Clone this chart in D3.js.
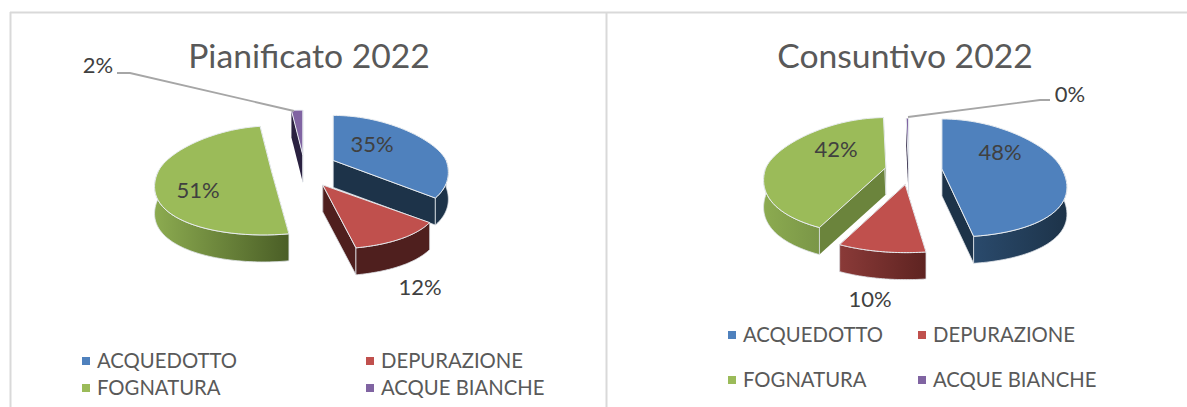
<!DOCTYPE html>
<html>
<head>
<meta charset="utf-8">
<script src="https://cdn.jsdelivr.net/npm/d3@7"></script>
<style>
html, body { margin: 0; padding: 0; background: #fff; }
svg { display: block; }
text { font-family: Lato, "Open Sans", sans-serif; }
</style>
</head>
<body>
<svg id="chart" width="1187" height="407"></svg>
<script>
const width = 1187;
const height = 407;

const categories = ["ACQUEDOTTO", "DEPURAZIONE", "FOGNATURA", "ACQUE BIANCHE"];
const colors = ["#4f81bd", "#c0504d", "#9bbb59", "#8064a2"];
const pianificato = [35, 12, 51, 2];
const consuntivo = [47.8, 10, 41.8, 0.4];

// wall colours per slice, light end then dark end of the gradient
const wallsLeft = [["#1d3349", "#1d3349"], ["#4f1f1e", "#4f1f1e"], ["#8cab50", "#4a5e26"], ["#2a2140", "#2a2140"]];
const wallsRight = [["#2a4a6c", "#1d3349"], ["#8a3a38", "#5e2321"], ["#8cab50", "#7a9647"], ["#2a2140", "#2a2140"]];
const facesLeft = ["#1d3349", "#4f1f1e", "#4a5e26", "#2a2140"];
const facesRight = ["#1d3349", "#6e2a28", "#6b843c", "#2a2140"];

var svg = d3.select("#chart");
var defs = svg.append("defs");

// panel borders
var border = svg.append("g").attr("stroke", "#d9d9d9").attr("stroke-width", 2);
border.append("line").attr("x1", 10).attr("x2", 1187).attr("y1", 12.5).attr("y2", 12.5);
border.append("line").attr("x1", 10.5).attr("x2", 10.5).attr("y1", 12).attr("y2", height);
border.append("line").attr("x1", 606.5).attr("x2", 606.5).attr("y1", 12).attr("y2", height);

// nudge is dx, dy and a sideways lean of the front rim, per slice
drawPie({
    id: "a", title: "Pianificato 2022", titleX: 309, titleY: 68,
    values: pianificato, walls: wallsLeft, faces: facesLeft,
    cx: 304, cy: 168, rx: 113, ryBack: 45, ryFront: 64, depth: 27, explode: 35, squash: 0.54, persp: 0.2,
    nudge: [[-2, 1, 0], [0, 1, 8], [2, 0, -8], [1, 6, 0]],
    labels: [[372, 152], [420, 295], [198, 198], [98, 73]],
    leader: [[117, 73], [130, 73], [294, 111]],
    legendX: [84, 368], legendY: [361, 388]
});

drawPie({
    id: "b", title: "Consuntivo 2022", titleX: 905, titleY: 68,
    values: consuntivo, walls: wallsRight, faces: facesRight,
    cx: 911, cy: 168, rx: 120, ryBack: 50, ryFront: 68, depth: 27, explode: 33, squash: 0.45, persp: 0.2,
    nudge: [[-2, 2, 12], [0, 2, 1], [7, 3, 0], [-2, 15, 0]],
    labels: [[1000, 160], [870, 307], [836, 157], [1070, 102]],
    leader: [[1050, 100], [1040, 100], [908, 117]],
    legendX: [730, 920], legendY: [335, 380]
});

function drawPie(cfg) {
    var arcs = d3.pie().sort(null)(cfg.values);
    var g = svg.append("g");

    arcs.forEach(function (d, i) {
        d.index = i;
        d.mid = (d.startAngle + d.endAngle) / 2;
        d.ax = cfg.cx + cfg.explode * Math.sin(d.mid) + cfg.nudge[i][0];
        d.ay = cfg.cy - cfg.explode * cfg.squash * Math.cos(d.mid) + cfg.nudge[i][1];
    });

    // a point on the rim of a slice, the front of the pie is drawn larger
    function rim(d, t) {
        var c = Math.cos(t), s = Math.sin(t);
        var ry = c > 0 ? cfg.ryBack : cfg.ryFront;
        var lean = cfg.nudge[d.index][2] * Math.max(0, -c);
        return [d.ax + cfg.rx * s * (1 - cfg.persp * c) + lean, d.ay - ry * c];
    }
    function rimPoints(d, a0, a1) {
        return d3.range(0, 61).map(function (k) { return rim(d, a0 + (a1 - a0) * k / 60); });
    }
    var line = d3.line();

    function wallGradient(d) {
        var id = "wall-" + cfg.id + d.index;
        var lg = defs.append("linearGradient").attr("id", id);
        lg.append("stop").attr("offset", "0%").attr("stop-color", cfg.walls[d.index][0]);
        lg.append("stop").attr("offset", "100%").attr("stop-color", cfg.walls[d.index][1]);
        return "url(#" + id + ")";
    }
    function face(d, t) {
        var p = rim(d, t);
        return line([[d.ax, d.ay], p, [p[0], p[1] + cfg.depth], [d.ax, d.ay + cfg.depth]]) + "Z";
    }

    // painter's order, back slices first
    var order = arcs.slice().sort(function (p, q) { return Math.cos(q.mid) - Math.cos(p.mid); });

    order.forEach(function (d) {
        var color = colors[d.index];
        g.append("path").attr("d", face(d, d.startAngle)).attr("fill", cfg.faces[d.index]);
        g.append("path").attr("d", face(d, d.endAngle)).attr("fill", cfg.faces[d.index])
            .attr("stroke", "#dfe3e8").attr("stroke-width", 0.8);

        // outer wall, only the part that faces the viewer
        var a0 = Math.max(d.startAngle, Math.PI / 2);
        var a1 = Math.min(d.endAngle, 3 * Math.PI / 2);
        if (a1 > a0) {
            var top = rimPoints(d, a0, a1);
            var bottom = top.map(function (p) { return [p[0], p[1] + cfg.depth]; }).reverse();
            g.append("path").attr("d", line(top.concat(bottom)) + "Z")
                .attr("fill", wallGradient(d))
                .attr("stroke", "#dfe3e8").attr("stroke-width", 0.8);
        }

        var pts = [[d.ax, d.ay]].concat(rimPoints(d, d.startAngle, d.endAngle));
        g.append("path").attr("d", line(pts) + "Z")
            .attr("fill", color)
            .attr("stroke", "#e8ecf0").attr("stroke-width", 1);
    });

    svg.append("text").attr("x", cfg.titleX).attr("y", cfg.titleY)
        .attr("text-anchor", "middle").attr("font-size", 33.7).attr("fill", "#595959")
        .text(cfg.title);

    svg.append("path").attr("d", line(cfg.leader)).attr("fill", "none")
        .attr("stroke", "#a6a6a6").attr("stroke-width", 1.8);

    var fmt = d3.format(".0f");
    svg.selectAll("text.pct-" + cfg.id).data(cfg.values).enter().append("text")
        .attr("x", function (d, i) { return cfg.labels[i][0]; })
        .attr("y", function (d, i) { return cfg.labels[i][1]; })
        .attr("text-anchor", "middle").attr("font-size", 22).attr("fill", "#404040")
        .text(function (d) { return fmt(d) + "%"; });

    var legend = svg.selectAll("g.leg-" + cfg.id).data(categories).enter().append("g")
        .attr("transform", function (d, i) {
            return "translate(" + cfg.legendX[i % 2] + "," + cfg.legendY[Math.floor(i / 2)] + ")";
        });
    legend.append("rect").attr("x", -2).attr("y", -4).attr("width", 8).attr("height", 8)
        .attr("fill", function (d, i) { return colors[i]; });
    legend.append("text").attr("x", 13).attr("y", 7).attr("font-size", 20.3).attr("fill", "#595959")
        .text(function (d) { return d; });
}
</script>
</body>
</html>
